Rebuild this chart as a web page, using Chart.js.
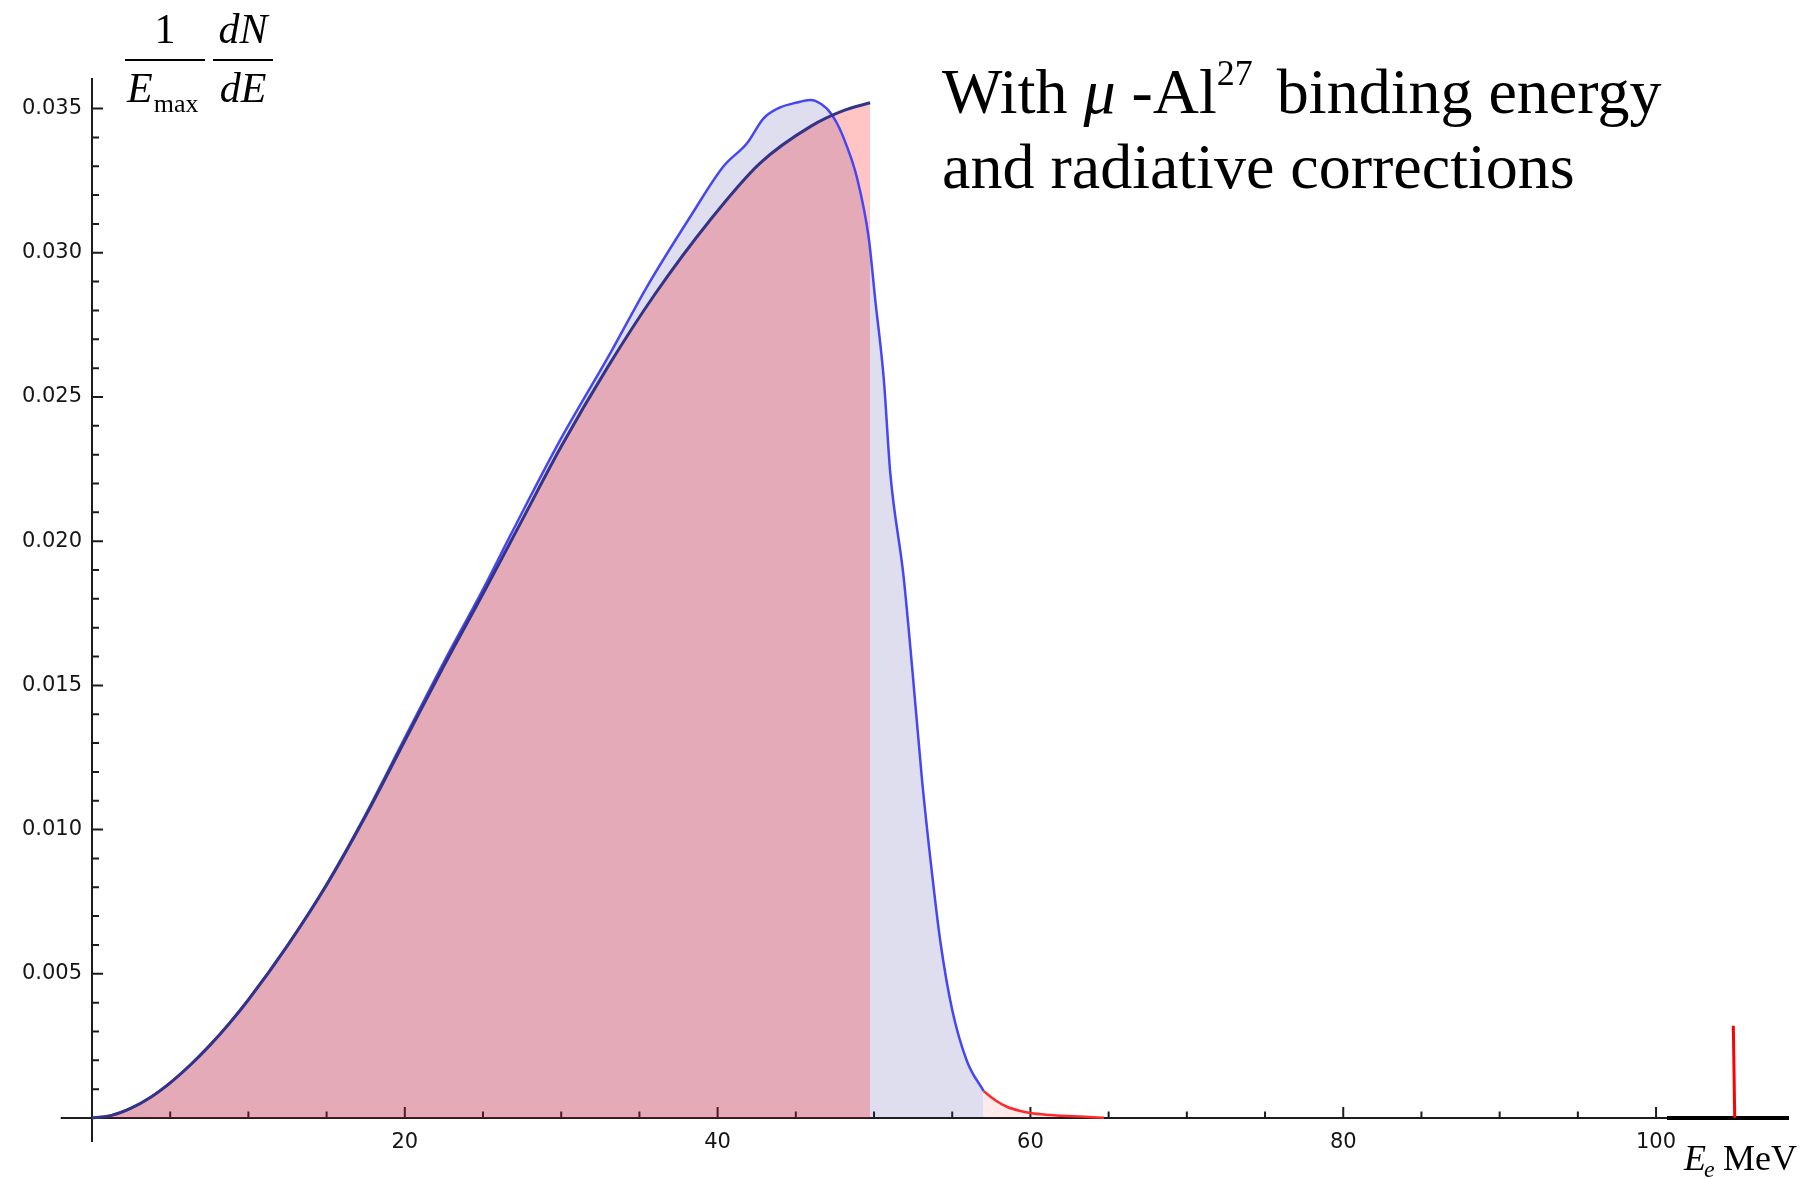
<!DOCTYPE html>
<html>
<head>
<meta charset="utf-8">
<script src="https://cdn.jsdelivr.net/npm/chart.js@4.4.1/dist/chart.umd.min.js"></script>
<style>
html,body{margin:0;padding:0;background:#fff;}
#wrap{position:relative;width:1803px;height:1178px;}
canvas{display:block;}
</style>
</head>
<body>
<div id="wrap"><canvas id="c"></canvas></div>
<script>
// ---- data ----
// Michel spectrum with binding energy (navy line, pink fill)
const michelEnergy = [0, 1.25, 2.5, 3.75, 5, 6.25, 7.5, 8.75, 10, 12.5, 15, 17.5, 20, 22.5, 25, 27.5, 30, 33, 36, 39.5, 42.7, 46, 48, 49.75];
const michelValue  = [0, 0.00009, 0.00034, 0.00072, 0.00122, 0.00182, 0.00250, 0.00326, 0.00410, 0.00598, 0.00808, 0.01048, 0.01308, 0.01568, 0.01818, 0.02073, 0.02328, 0.02606, 0.02857, 0.03112, 0.03310, 0.03440, 0.03492, 0.03520];

// spectrum with radiative corrections (blue line, lavender fill)
const correctedEnergy = [0, 1.25, 2.5, 3.75, 5, 6.25, 7.5, 8.75, 10, 12.5, 15, 17.5, 20, 22.5, 25, 26.75, 29.94, 33.14, 35.49, 38.25, 40.38, 41.88, 42.94, 44.0, 45.0, 45.92, 46.25, 46.99, 47.63, 48.27, 48.91, 49.66, 50.08, 50.62, 51.04, 51.89, 52.43, 53.07, 53.71, 54.24, 54.99, 55.95, 57.01];
const correctedValue  = [0, 0.00009, 0.00034, 0.00072, 0.00122, 0.00182, 0.00250, 0.00326, 0.00410, 0.00599, 0.00811, 0.01053, 0.01318, 0.01581, 0.01833, 0.02020, 0.02351, 0.02652, 0.02883, 0.03125, 0.03300, 0.03380, 0.03466, 0.03504, 0.03520, 0.03530, 0.03527, 0.03500, 0.03449, 0.03368, 0.03260, 0.03052, 0.02836, 0.02565, 0.02236, 0.01877, 0.01567, 0.01172, 0.00847, 0.00612, 0.00377, 0.00196, 0.00093];

// high-energy tail (red line)
const tailEnergy = [57.01, 57.8, 58.5, 59.3, 60, 61, 62, 63.5, 64.7];
const tailValue  = [0.00093, 0.00060, 0.00039, 0.00025, 0.00017, 0.00011, 0.00008, 0.00004, 0.00001];

// conversion electron line (red spike) and its zero baseline (black)
const conversionEnergy = [104.94, 105.03];
const conversionValue  = [0.0032, 0];
const baselineEnergy = [100.7, 108.5];
const baselineValue  = [0, 0];

// axes
const xAxisRange = [-2, 108.5];
const yAxisRange = [-0.00083, 0.03606];
const xLabelTicks = [20, 40, 60, 80, 100];
const yLabelTicks = [0.005, 0.010, 0.015, 0.020, 0.025, 0.030, 0.035];

const pts = (xs, ys) => xs.map((e, i) => ({x: e, y: ys[i]}));

const serif = '"Liberation Serif", "Times New Roman", serif';

const mathAxes = {
  id: 'mathAxes',
  beforeDraw(chart) {
    const {ctx} = chart;
    const sx = chart.scales.x, sy = chart.scales.y;
    ctx.save();
    ctx.fillStyle = '#ffffff';
    ctx.fillRect(0, 0, chart.width, chart.height);
    const x0 = sx.getPixelForValue(0), y0 = sy.getPixelForValue(0);
    ctx.strokeStyle = '#1c1c1c';
    ctx.lineWidth = 2;
    ctx.beginPath();
    ctx.moveTo(sx.getPixelForValue(xAxisRange[0]), y0);
    ctx.lineTo(sx.getPixelForValue(xAxisRange[1]), y0);
    ctx.moveTo(x0, sy.getPixelForValue(yAxisRange[0]));
    ctx.lineTo(x0, sy.getPixelForValue(yAxisRange[1]));
    ctx.stroke();
    // x ticks (inward, up)
    ctx.beginPath();
    sx.ticks.forEach(t => {
      const v = t.value;
      if (v <= 0 || v > 100.5) return;
      if (Math.abs(v / 5 - Math.round(v / 5)) > 1e-6) return;
      const major = Math.abs(v / 20 - Math.round(v / 20)) < 1e-6;
      const px = sx.getPixelForValue(v);
      ctx.moveTo(px, y0);
      ctx.lineTo(px, y0 - (major ? 11 : 6.5));
    });
    // y ticks (inward, right)
    sy.ticks.forEach(t => {
      const v = t.value;
      const k = Math.round(v * 1000);
      if (k <= 0 || Math.abs(v * 1000 - k) > 1e-6) return;
      const major = k % 5 === 0;
      const py = sy.getPixelForValue(v);
      ctx.moveTo(x0, py);
      ctx.lineTo(x0 + (major ? 11 : 7), py);
    });
    ctx.stroke();
    ctx.restore();
  },
  afterDraw(chart) {
    const {ctx} = chart;
    ctx.save();
    ctx.fillStyle = '#000';
    ctx.strokeStyle = '#000';
    ctx.textBaseline = 'alphabetic';
    // y-axis label: 1/E_max dN/dE
    ctx.textAlign = 'center';
    ctx.font = '42px ' + serif;
    ctx.fillText('1', 165, 43);
    ctx.font = 'italic 42px ' + serif;
    ctx.fillText('dN', 243, 43);
    ctx.fillText('dE', 243, 102);
    ctx.lineWidth = 2;
    ctx.beginPath();
    ctx.moveTo(125, 60); ctx.lineTo(205, 60);
    ctx.moveTo(213, 60); ctx.lineTo(273, 60);
    ctx.stroke();
    ctx.textAlign = 'left';
    ctx.font = 'italic 42px ' + serif;
    ctx.fillText('E', 127, 102);
    let w = ctx.measureText('E').width;
    ctx.font = '26px ' + serif;
    ctx.fillText('max', 127 + w + 1, 112);
    // x-axis label: E_e MeV
    ctx.font = 'italic 36px ' + serif;
    ctx.fillText('E', 1684, 1170);
    w = ctx.measureText('E').width;
    ctx.font = 'italic 24px ' + serif;
    ctx.fillText('e', 1684 + w - 2, 1177);
    ctx.font = '36px ' + serif;
    ctx.textAlign = 'right';
    ctx.fillText('MeV', 1797, 1170);
    // annotation
    ctx.textAlign = 'left';
    let x = 942;
    const b1 = 113;
    const seg = (txt, font, dy) => {
      ctx.font = font;
      ctx.fillText(txt, x, b1 + (dy || 0));
      x += ctx.measureText(txt).width;
    };
    seg('With ', '64px ' + serif);
    seg('\u03BC', 'italic 64px ' + serif);
    seg(' -Al', '64px ' + serif);
    seg('27', '36px ' + serif, -28);
    x += 8;
    seg(' binding energy', '64px ' + serif);
    ctx.font = '64px ' + serif;
    ctx.fillText('and radiative corrections', 942, 188);
    ctx.restore();
  }
};

const tickFont = {family: '"DejaVu Sans", Verdana, sans-serif', size: 21};

new Chart(document.getElementById('c'), {
  type: 'line',
  data: {
    datasets: [
      {
        label: 'Michel spectrum with binding energy',
        data: pts(michelEnergy, michelValue),
        borderColor: '#33338a',
        borderWidth: 3,
        backgroundColor: 'rgba(255,0,0,0.23)',
        fill: 'origin',
        pointRadius: 0,
        cubicInterpolationMode: 'monotone',
        clip: 10
      },
      {
        label: 'with radiative corrections',
        data: pts(correctedEnergy, correctedValue),
        borderColor: '#4646f2',
        borderWidth: 2.5,
        backgroundColor: 'rgba(60,60,160,0.17)',
        fill: 'origin',
        pointRadius: 0,
        cubicInterpolationMode: 'monotone',
        clip: 10
      },
      {
        label: 'tail',
        data: pts(tailEnergy, tailValue),
        borderColor: '#ff2a2a',
        borderWidth: 2.5,
        backgroundColor: 'rgba(255,0,0,0.08)',
        fill: 'origin',
        pointRadius: 0,
        cubicInterpolationMode: 'monotone',
        clip: 10
      },
      {
        label: 'conversion line',
        data: pts(conversionEnergy, conversionValue),
        borderColor: '#ff0000',
        borderWidth: 3,
        fill: false,
        pointRadius: 0,
        tension: 0,
        clip: 10
      },
      {
        label: 'baseline',
        data: pts(baselineEnergy, baselineValue),
        borderColor: '#000000',
        borderWidth: 4,
        fill: false,
        pointRadius: 0,
        tension: 0,
        clip: 10
      }
    ]
  },
  options: {
    responsive: true,
    maintainAspectRatio: false,
    animation: false,
    devicePixelRatio: 1,
    layout: {padding: {top: 78, right: 14, left: 0, bottom: 0}},
    plugins: {
      legend: {display: false},
      tooltip: {enabled: false},
      filler: {drawTime: 'beforeDatasetsDraw'}
    },
    scales: {
      x: {
        type: 'linear',
        position: 'bottom',
        min: 0,
        max: xAxisRange[1],
        afterFit(s) { s.height = 60; },
        grid: {display: false, drawTicks: false},
        border: {display: false},
        ticks: {
          stepSize: 5,
          autoSkip: false,
          maxRotation: 0,
          padding: 12,
          color: '#151515',
          font: tickFont,
          callback(v) {
            const r = Math.round(v);
            return (Math.abs(v - r) < 1e-9 && xLabelTicks.includes(r)) ? String(r) : '';
          }
        }
      },
      y: {
        type: 'linear',
        position: 'left',
        min: 0,
        max: yAxisRange[1],
        afterFit(s) { s.width = 92; },
        grid: {display: false, drawTicks: false},
        border: {display: false},
        ticks: {
          stepSize: 0.001,
          autoSkip: false,
          padding: 10,
          color: '#151515',
          font: tickFont,
          callback(v) {
            const k = Math.round(v * 1000);
            if (Math.abs(v * 1000 - k) > 1e-6) return '';
            return yLabelTicks.some(t => Math.round(t * 1000) === k) ? (k / 1000).toFixed(3) : '';
          }
        }
      }
    }
  },
  plugins: [mathAxes]
});
</script>
</body>
</html>
